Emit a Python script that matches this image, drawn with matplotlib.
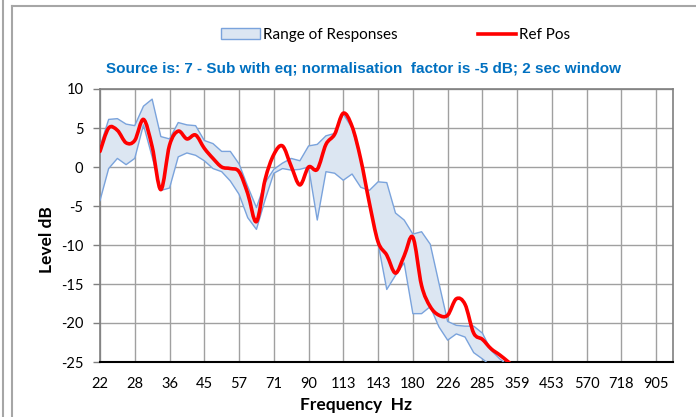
import numpy as np
import matplotlib
matplotlib.use("Agg")
import matplotlib.pyplot as plt
from matplotlib.path import Path
from matplotlib.patches import PathPatch, Patch
from matplotlib.lines import Line2D
from matplotlib.ticker import NullLocator

plt.rcParams['font.family'] = ['Lato', 'DejaVu Sans']

# ---- data (1/12-octave points) ----
freqs = [22.45, 23.78, 25.20, 26.70, 28.28, 29.97, 31.75, 33.64, 35.64, 37.76,
         40.00, 42.38, 44.90, 47.57, 50.40, 53.39, 56.57, 59.93, 63.50, 67.27,
         71.27, 75.51, 80.00, 84.76, 89.80, 95.14, 100.8, 106.8, 113.1, 119.9,
         127.0, 134.5, 142.5, 151.0, 160.0, 169.5, 179.6, 190.3, 201.6, 213.6,
         226.3, 239.7, 254.0, 269.1, 285.1, 302.0, 320.0, 339.0, 359.2]

ref_pos = [2.0, 5.0, 4.7, 3.1, 3.4, 6.1, 2.6, -2.9, 2.8, 4.6,
           3.6, 4.1, 2.4, 1.1, 0.0, -0.2, -0.6, -3.4, -7.0, -1.6,
           1.6, 2.7, 0.1, -2.3, 0.0, -0.3, 2.9, 4.2, 6.9, 5.2,
           1.0, -4.6, -9.6, -11.3, -13.6, -11.4, -9.0, -15.2, -17.9, -19.0,
           -19.0, -16.9, -17.6, -21.3, -22.1, -23.3, -24.1, -25.0, -26.0]

range_edge_a = [2.6, 6.1, 6.2, 5.5, 5.3, 7.8, 8.7, 3.9, 3.6, 5.7,
                5.4, 5.3, 3.4, 3.0, 2.0, 2.0, 0.4, -2.5, -5.2, -2.0,
                -0.3, 0.5, 1.1, 0.8, 2.7, 2.9, 4.0, 4.3, 6.8, 5.0,
                1.0, -4.8, -9.8, -15.7, -13.9, -12.3, -18.8, -18.8, -17.9, -20.5,
                -22.2, -21.4, -21.8, -23.8, -24.6, -25.5, -26.5, -27.5, -28.5]

range_edge_b = [-4.3, -0.2, 1.1, 0.3, 1.1, 5.4, 1.3, -3.0, -2.7, 1.3,
                1.8, 1.5, 0.8, -0.2, -0.6, -1.8, -3.5, -6.5, -8.0, -4.2,
                -0.8, -0.2, -0.4, -0.3, 0.0, -6.8, -0.6, -0.8, -1.7, -0.9,
                -2.6, -3.0, -1.9, -2.0, -5.9, -6.8, -8.6, -8.3, -9.9, -14.9,
                -19.8, -20.3, -20.4, -20.4, -21.3, -23.5, -24.6, -25.5, -26.5]

tick_freqs = [22.45, 28.28, 35.64, 44.90, 56.57, 71.27, 89.80, 113.1, 142.5,
              179.6, 226.3, 285.1, 359.2, 452.5, 570.2, 718.4, 905.1]
tick_labels = ['22', '28', '36', '45', '57', '71', '90', '113', '143', '180',
               '226', '285', '359', '453', '570', '718', '905']
y_ticks = [-25, -20, -15, -10, -5, 0, 5, 10]

title = "Source is: 7 - Sub with eq; normalisation  factor is -5 dB; 2 sec window"

# ---- figure ----
W, H = 696, 417
fig = plt.figure(figsize=(W / 100, H / 100), dpi=100)
ax = fig.add_axes([100 / W, 1 - 362 / H, 573 / W, 273 / H])
ax.set_xscale('log')
ax.set_xlim(22.45, 1012)
ax.set_ylim(-25, 10)

band_fill = '#DCE6F2'
band_edge = '#7AA3DC'
ax.fill_between(freqs, range_edge_a, range_edge_b, facecolor=band_fill,
                edgecolor='none', zorder=2)
ax.plot(freqs, range_edge_a, color=band_edge, lw=1.0, zorder=3)
ax.plot(freqs, range_edge_b, color=band_edge, lw=1.0, zorder=3)

# smoothed (Excel-like) red line: cubic Bezier through the points,
# control points computed in log-x space so the curve is smooth on screen
u = np.log10(np.asarray(freqs))
v = np.asarray(ref_pos, dtype=float)
P = np.column_stack([u, v])
n = len(P)
verts = [P[0]]
codes = [Path.MOVETO]
for i in range(n - 1):
    p0 = P[i - 1] if i > 0 else P[i]
    p1 = P[i]
    p2 = P[i + 1]
    p3 = P[i + 2] if i + 2 < n else P[i + 1]
    c1 = p1 + (p2 - p0) / 6.0
    c2 = p2 - (p3 - p1) / 6.0
    verts += [c1, c2, p2]
    codes += [Path.CURVE4] * 3
verts = np.array(verts)
verts[:, 0] = 10 ** verts[:, 0]
red_path = Path(verts, codes)
ax.add_patch(PathPatch(red_path, facecolor='none', edgecolor='#FF0000',
                       lw=2.6, zorder=4, capstyle='round', joinstyle='round'))

# axes styling
ax.xaxis.set_minor_locator(NullLocator())
ax.set_xticks(tick_freqs)
ax.set_xticklabels(tick_labels)
ax.set_yticks(y_ticks)
ax.set_yticklabels([str(t) for t in y_ticks])
ax.grid(True, color='#A0A0A0', lw=1.0, zorder=1)
ax.set_axisbelow(True)
ax.tick_params(axis='x', length=0, pad=11, labelsize=10.5, colors='#000000')
ax.tick_params(axis='y', length=5, width=1, pad=7, labelsize=10.5,
               color='#7F7F7F', labelcolor='#000000')
for s in ['top', 'right', 'left']:
    ax.spines[s].set_color('#7F7F7F')
    ax.spines[s].set_linewidth(1.2)
ax.spines['bottom'].set_color('#000000')
ax.spines['bottom'].set_linewidth(1.5)

# texts
fig.text(364 / W, 1 - 69 / H, title, ha='center', va='center',
         color='#0070C0', fontsize=11, fontweight='bold',
         family=['Liberation Sans', 'DejaVu Sans'])
fig.text(47 / W, 1 - 240 / H, 'Level dB', rotation=90, ha='center',
         va='center', fontsize=12.5, fontweight='bold')
fig.text(356 / W, 1 - 405 / H, 'Frequency  Hz', ha='center', va='center',
         fontsize=12.5, fontweight='bold')

# legend
handles = [Patch(facecolor=band_fill, edgecolor=band_edge, lw=1.0),
           Line2D([], [], color='#FF0000', lw=2.6)]
fig.legend(handles, ['Range of Responses', 'Ref Pos'], loc='center',
           bbox_to_anchor=(396 / W, 1 - 35 / H), ncol=2, frameon=False,
           fontsize=11, handlelength=2.5, handleheight=0.75,
           handletextpad=0.2, columnspacing=5.3, borderpad=0)

# outer frame lines of the chart box
frame_c = '#A6A6A6'
fig.add_artist(Line2D([3 / W, 3 / W], [0, 1], color=frame_c, lw=1.5))
fig.add_artist(Line2D([12 / W, 12 / W], [0, 1 - 6 / H], color=frame_c, lw=1.5))
fig.add_artist(Line2D([12 / W, 1], [1 - 6 / H, 1 - 6 / H], color=frame_c, lw=1.5))

fig.savefig('out.png', dpi=100)
